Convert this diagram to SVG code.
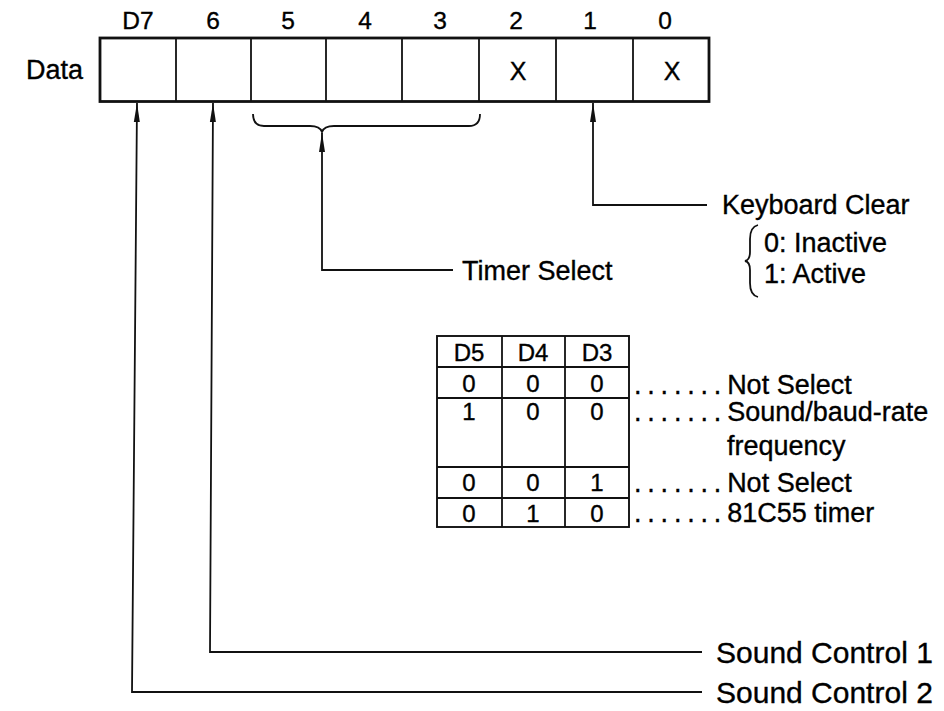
<svg xmlns="http://www.w3.org/2000/svg" width="944" height="711" viewBox="0 0 944 711">
<style>
text{font-family:"Liberation Sans",Arial,sans-serif;fill:#000;stroke:#000;stroke-width:0.35}
.lbl{font-size:27px}
.big{font-size:30px}
.bit{font-size:24.5px;text-anchor:middle}
.x{font-size:25px;text-anchor:middle}
.tb{font-size:24px;text-anchor:middle}
.ln{fill:none;stroke:#111;stroke-width:1.8}
.box{fill:#fff;stroke:#111;stroke-width:2.8}
.div{stroke:#111;stroke-width:1.8}
.grid{fill:none;stroke:#111;stroke-width:1.9}
.dots{letter-spacing:5.8px}
</style>
<defs>
<marker id="ah" viewBox="0 0 19 7" refX="19" refY="3.5" markerWidth="19" markerHeight="7" markerUnits="userSpaceOnUse" orient="auto">
<path d="M0,0.5 L19,3.5 L0,6.5 Z" fill="#111"/>
</marker>
</defs>

<g id="register">
<text class="lbl" x="26" y="79">Data</text>
<text class="bit" x="138" y="29">D7</text>
<text class="bit" x="213" y="29">6</text>
<text class="bit" x="288" y="29">5</text>
<text class="bit" x="365" y="29">4</text>
<text class="bit" x="440" y="29">3</text>
<text class="bit" x="516" y="29">2</text>
<text class="bit" x="590" y="29">1</text>
<text class="bit" x="665" y="29">0</text>
<rect class="box" x="100" y="38" width="609" height="63.5"/>
<line class="div" x1="176" y1="38" x2="176" y2="101"/>
<line class="div" x1="251" y1="38" x2="251" y2="101"/>
<line class="div" x1="326" y1="38" x2="326" y2="101"/>
<line class="div" x1="402" y1="38" x2="402" y2="101"/>
<line class="div" x1="479" y1="38" x2="479" y2="101"/>
<line class="div" x1="556" y1="38" x2="556" y2="101"/>
<line class="div" x1="633" y1="38" x2="633" y2="101"/>
<text class="x" x="518" y="80">X</text>
<text class="x" x="672" y="80">X</text>
</g>

<g id="timer-brace">
<path class="ln" d="M253,114 Q253,126 264,126 L310,126 Q320,126 322,132 Q324,126 334,126 L469,126 Q480,126 480,114"/>
</g>

<g id="connectors">
<polyline class="ln" points="702,692 132,692 137,103" marker-end="url(#ah)"/>
<polyline class="ln" points="702,652 210,652 213,103" marker-end="url(#ah)"/>
<polyline class="ln" points="453,270 322,270 322,133" marker-end="url(#ah)"/>
<polyline class="ln" points="707,205 593,205 593,103" marker-end="url(#ah)"/>
</g>

<g id="timer-select">
<text class="lbl" x="462" y="280">Timer Select</text>
</g>

<g id="keyboard-clear">
<text class="lbl" x="722" y="214">Keyboard Clear</text>
<path class="ln" d="M758,225 Q750,227 750,239 L750,252 Q750,260 745,261 Q750,262 750,270 L750,283 Q750,295 758,297"/>
<text class="lbl" x="764" y="252">0: Inactive</text>
<text class="lbl" x="764" y="283">1: Active</text>
</g>

<g id="sound-control-1">
<text class="big" x="716" y="663">Sound Control 1</text>
</g>
<g id="sound-control-2">
<text class="big" x="716" y="703">Sound Control 2</text>
</g>

<g id="timer-table">
<rect class="grid" x="437" y="336" width="192" height="191"/>
<line class="div" x1="502" y1="336" x2="502" y2="527"/>
<line class="div" x1="565" y1="336" x2="565" y2="527"/>
<line class="div" x1="437" y1="367" x2="629" y2="367"/>
<line class="div" x1="437" y1="398" x2="629" y2="398"/>
<line class="div" x1="437" y1="467" x2="629" y2="467"/>
<line class="div" x1="437" y1="498" x2="629" y2="498"/>
<text class="tb" x="469" y="361">D5</text>
<text class="tb" x="533" y="361">D4</text>
<text class="tb" x="597" y="361">D3</text>
<text class="tb" x="469" y="392">0</text>
<text class="tb" x="533" y="392">0</text>
<text class="tb" x="597" y="392">0</text>
<text class="tb" x="469" y="420">1</text>
<text class="tb" x="533" y="420">0</text>
<text class="tb" x="597" y="420">0</text>
<text class="tb" x="469" y="491">0</text>
<text class="tb" x="533" y="491">0</text>
<text class="tb" x="597" y="491">1</text>
<text class="tb" x="469" y="522">0</text>
<text class="tb" x="533" y="522">1</text>
<text class="tb" x="597" y="522">0</text>
<text class="lbl" x="634" y="394"><tspan class="dots">.......</tspan>Not Select</text>
<text class="lbl" x="634" y="421"><tspan class="dots">.......</tspan>Sound/baud-rate</text>
<text class="lbl" x="727" y="455">frequency</text>
<text class="lbl" x="634" y="492"><tspan class="dots">.......</tspan>Not Select</text>
<text class="lbl" x="634" y="522"><tspan class="dots">.......</tspan>81C55 timer</text>
</g>
</svg>
